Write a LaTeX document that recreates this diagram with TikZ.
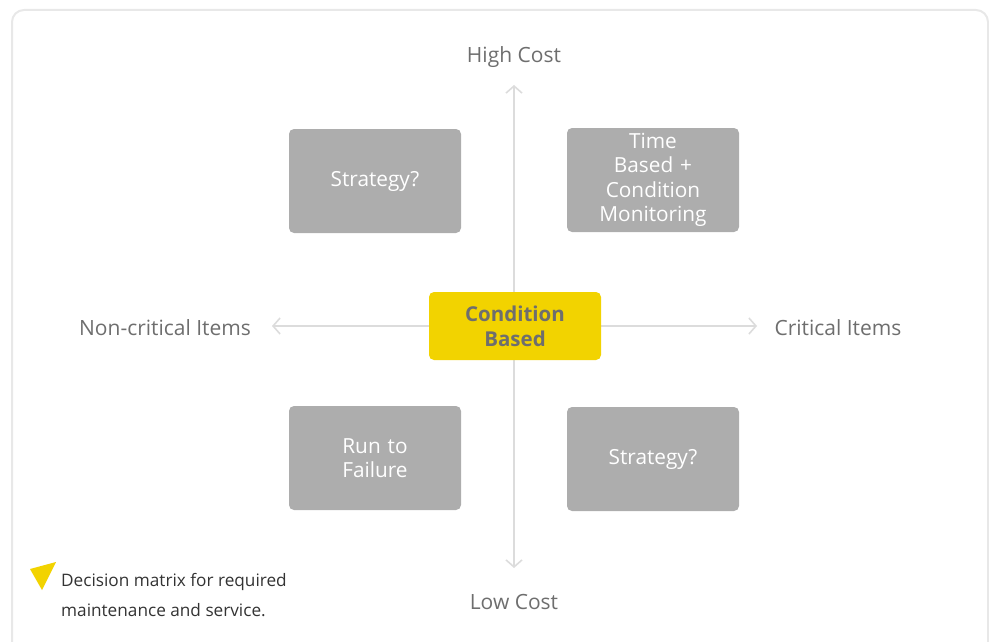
\documentclass[tikz,border=0pt]{standalone}
\usepackage{fontspec}
\setmainfont{Open Sans}
\usetikzlibrary{arrows.meta}
\definecolor{boxgray}{HTML}{ADADAD}
\definecolor{ylw}{HTML}{F2D300}
\definecolor{lbl}{HTML}{6E6E6E}
\definecolor{axis}{HTML}{DCDCDC}
\definecolor{frame}{HTML}{E8E8E8}
\begin{document}
\begin{tikzpicture}[x=1pt,y=-1pt,
  gbox/.style={fill=boxgray,rounded corners=5pt,minimum width=172pt,minimum height=104pt,
    text=white,font=\fontsize{20.8}{24.5}\selectfont,align=center,text width=120pt,inner sep=0pt},
  cbox/.style={fill=ylw,rounded corners=5pt,minimum width=172pt,minimum height=68pt,
    text=lbl,font=\fontsize{20.5}{25}\selectfont\bfseries,align=center,inner sep=0pt},
  axlbl/.style={text=lbl,font=\fontsize{21}{24}\selectfont,inner sep=0pt},
  ax/.style={draw=axis,line width=1.6pt,-{Straight Barb[length=7pt,width=16pt,line width=1.6pt]}}]
\useasboundingbox (0,0) rectangle (989,642);
\draw[frame,line width=2pt,rounded corners=12pt] (12,10) -- (988,10) -- (988,660) -- (12,660) -- cycle;
% axes
\coordinate (top) at (514,85);
\coordinate (bot) at (514,568);
\coordinate (lft) at (272,326);
\coordinate (rgt) at (757,326);
\coordinate (ctr) at (514,326);
\draw[ax] (ctr) -- (top);
\draw[ax] (ctr) -- (bot);
\draw[ax] (ctr) -- (lft);
\draw[ax] (ctr) -- (rgt);
% boxes
\node[gbox] (tl) at (375,181) {Strategy?};
\node[gbox] (tr) at (653,180) {Time\\Based +\\Condition\\Monitoring};
\node[gbox] (bl) at (375,458) {Run to\\Failure};
\node[gbox] (br) at (653,459) {Strategy?};
\node[cbox] (c) at (515,326) {Condition\\Based};
% labels
\node[axlbl] (hc) at (514,57) {High Cost};
\node[axlbl] (lc) at (514,602) {Low Cost};
\node[axlbl] (nc) at (165,328) {Non-critical Items};
\node[axlbl] (ci) at (838,328) {Critical Items};
% legend
\fill[ylw] (30,569) -- (56,562) -- (42,590) -- cycle;
\node[anchor=west,text=black!80,font=\fontsize{17.2}{30}\selectfont,align=left,inner sep=0pt] (cap) at (61,595) {Decision matrix for required\\maintenance and service.};
\end{tikzpicture}
\end{document}
